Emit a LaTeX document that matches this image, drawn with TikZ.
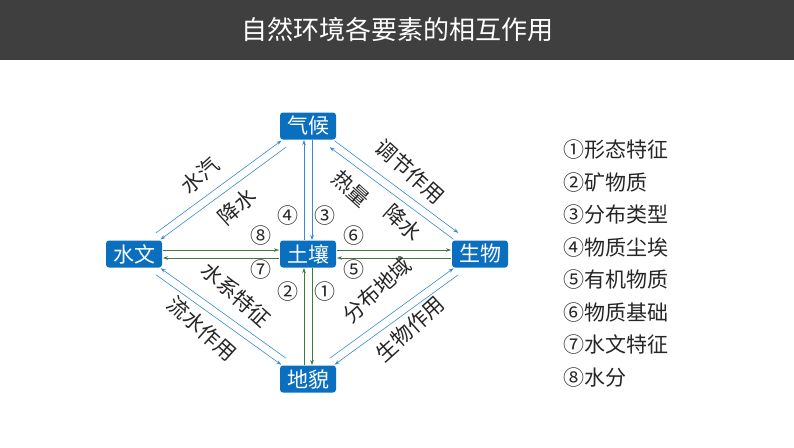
\documentclass[tikz,border=0pt]{standalone}
\usepackage{fontspec}
\setmainfont{Noto Sans CJK SC}
\usetikzlibrary{calc,arrows.meta}
\definecolor{boxblue}{HTML}{0B6FC0}
\definecolor{lnblue}{HTML}{3A8AD0}
\definecolor{lngreen}{HTML}{3C7A40}
\definecolor{titlebg}{HTML}{3F3F3F}
\tikzset{
 box/.style={fill=boxblue,rounded corners=3pt,text=white,font=\fontsize{21}{21}\selectfont,minimum width=56pt,minimum height=27pt,inner sep=0pt},
 lab/.style={font=\fontsize{21}{21}\selectfont,text=black!85,inner sep=0pt},
 num/.style={font=\fontsize{21}{21}\selectfont,text=black!85,inner sep=0pt},
 arr/.style={-{Stealth[length=5pt,width=3.5pt]},line width=0.6pt},
 bl/.style={arr,lnblue},
 gr/.style={arr,lngreen},
}
\begin{document}
\begin{tikzpicture}[x=1pt,y=-1pt]
\useasboundingbox (0,0) rectangle (794,447);
\fill[titlebg] (0,0) rectangle (794,60);
\node[text=white,font=\fontsize{26}{26}\selectfont] (title) at (397,30) {自然环境各要素的相互作用};
\node[box] (qh) at (308,126) {气候};
\node[box] (sw) at (134,254) {水文};
\node[box] (tr) at (308,254) {土壤};
\node[box] (sy) at (480,254) {生物};
\node[box] (dm) at (308,379) {地貌};
% 水文-气候
\draw[bl,shorten <=30pt,shorten >=30pt] ($(sw)!4pt!90:(qh)$) -- ($(qh)!4pt!-90:(sw)$);
\draw[bl,shorten <=30pt,shorten >=30pt] ($(qh)!4pt!90:(sw)$) -- ($(sw)!4pt!-90:(qh)$);
% 气候-土壤
\draw[bl,shorten <=14pt,shorten >=14pt] ($(qh)!4pt!90:(tr)$) -- ($(tr)!4pt!-90:(qh)$);
\draw[bl,shorten <=14pt,shorten >=14pt] ($(tr)!4pt!90:(qh)$) -- ($(qh)!4pt!-90:(tr)$);
% 气候-生物
\draw[bl,shorten <=30pt,shorten >=30pt] ($(sy)!4pt!90:(qh)$) -- ($(qh)!4pt!-90:(sy)$);
\draw[bl,shorten <=30pt,shorten >=30pt] ($(qh)!4pt!90:(sy)$) -- ($(sy)!4pt!-90:(qh)$);
% 水文-土壤
\draw[gr,shorten <=29pt,shorten >=29pt] ($(sw)!4pt!90:(tr)$) -- ($(tr)!4pt!-90:(sw)$);
\draw[gr,shorten <=29pt,shorten >=29pt] ($(tr)!4pt!90:(sw)$) -- ($(sw)!4pt!-90:(tr)$);
% 土壤-生物
\draw[gr,shorten <=29pt,shorten >=29pt] ($(tr)!4pt!90:(sy)$) -- ($(sy)!4pt!-90:(tr)$);
\draw[gr,shorten <=29pt,shorten >=29pt] ($(sy)!4pt!90:(tr)$) -- ($(tr)!4pt!-90:(sy)$);
% 土壤-地貌
\draw[gr,shorten <=14pt,shorten >=14pt] ($(tr)!4pt!90:(dm)$) -- ($(dm)!4pt!-90:(tr)$);
\draw[gr,shorten <=14pt,shorten >=14pt] ($(dm)!4pt!90:(tr)$) -- ($(tr)!4pt!-90:(dm)$);
% 水文-地貌
\draw[bl,shorten <=30pt,shorten >=30pt] ($(dm)!4pt!-90:(sw)$) -- ($(sw)!4pt!90:(dm)$);
\draw[bl,shorten <=30pt,shorten >=30pt] ($(sw)!4pt!-90:(dm)$) -- ($(dm)!4pt!90:(sw)$);
% 地貌-生物
\draw[bl,shorten <=30pt,shorten >=30pt] ($(dm)!4pt!90:(sy)$) -- ($(sy)!4pt!-90:(dm)$);
\draw[bl,shorten <=30pt,shorten >=30pt] ($(sy)!4pt!90:(dm)$) -- ($(dm)!4pt!-90:(sy)$);
% labels
\node[lab,rotate=42] (l1) at (200,176) {水汽};
\node[lab,rotate=42] (l2) at (237,207) {降水};
\node[lab,rotate=-42] (l3) at (410,172) {调节作用};
\node[lab,rotate=-42] (l4) at (351,189) {热量};
\node[lab,rotate=-42] (l5) at (403,223) {降水};
\node[lab,rotate=-42] (l6) at (236,295) {水系特征};
\node[lab,rotate=-42] (l7) at (202,329) {流水作用};
\node[lab,rotate=42] (l8) at (377,290) {分布地域};
\node[lab,rotate=42] (l9) at (410,329) {生物作用};
\node[num] (n4) at (288,216) {④};
\node[num] (n3) at (325,216) {③};
\node[num] (n8) at (261,236) {⑧};
\node[num] (n6) at (354,236) {⑥};
\node[num] (n7) at (261,270) {⑦};
\node[num] (n5) at (354,270) {⑤};
\node[num] (n2) at (288,292) {②};
\node[num] (n1) at (325,292) {①};
% legend
\foreach \t [count=\i] in {①形态特征,②矿物质,③分布类型,④物质尘埃,⑤有机物质,⑥物质基础,⑦水文特征,⑧水分}
  \node[lab,anchor=west] (k\i) at (563,{150+32.5*(\i-1)}) {\t};
\end{tikzpicture}
\end{document}
